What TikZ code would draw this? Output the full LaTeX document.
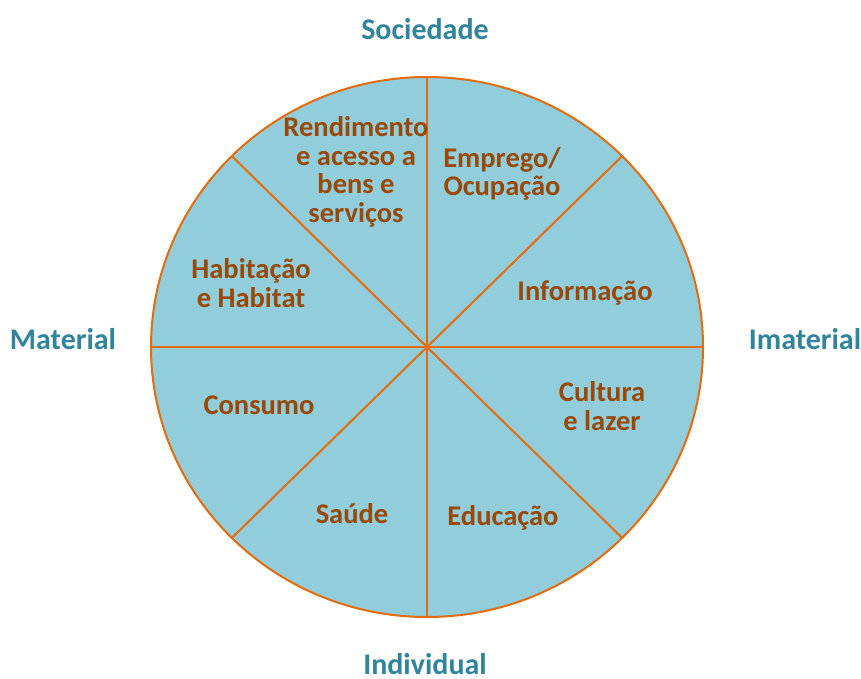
\documentclass[tikz,border=0pt]{standalone}
\usepackage{fontspec}
\setmainfont{Carlito}
\usetikzlibrary{calc}
\definecolor{fillblue}{HTML}{92CDDC}
\definecolor{lineorange}{HTML}{E46C0A}
\definecolor{txtbrown}{HTML}{984807}
\definecolor{tealc}{HTML}{31849B}
\begin{document}
\begin{tikzpicture}[x=1pt,y=-1pt,
  seg/.style={draw=lineorange,line width=2pt},
  sector/.style={font=\bfseries\fontsize{28.5}{28.7}\selectfont,text=txtbrown,align=center,inner sep=0pt},
  axis/.style={font=\bfseries\fontsize{30}{30}\selectfont,text=tealc,inner sep=0pt}]
\useasboundingbox (0,0) rectangle (861,678);
\coordinate (c) at (427,347);
\fill[fillblue] (c) ellipse [x radius=276, y radius=270];
\foreach \a in {0,45,...,315}{
  \draw[seg] (c) -- ($(c)+({276*cos(\a)},{270*sin(\a)})$);
}
\draw[seg] (c) ellipse [x radius=276, y radius=270];
\node[sector] (rend) at (356,172) {Rendimento\\e acesso a\\bens e\\serviços};
\node[sector] (emp) at (502,174) {Emprego/\\Ocupação};
\node[sector] (inf) at (585,293) {Informação};
\node[sector] (hab) at (251,283) {Habitação\\e Habitat};
\node[sector] (cul) at (602,406) {Cultura\\e lazer};
\node[sector] (con) at (259,405) {Consumo};
\node[sector] (sau) at (352,514) {Saúde};
\node[sector] (edu) at (503,518) {Educação};
\node[axis] (soc) at (425,29) {Sociedade};
\node[axis] (mat) at (63,339) {Material};
\node[axis] (ima) at (805,339) {Imaterial};
\node[axis] (ind) at (425,664) {Individual};
\end{tikzpicture}
\end{document}
